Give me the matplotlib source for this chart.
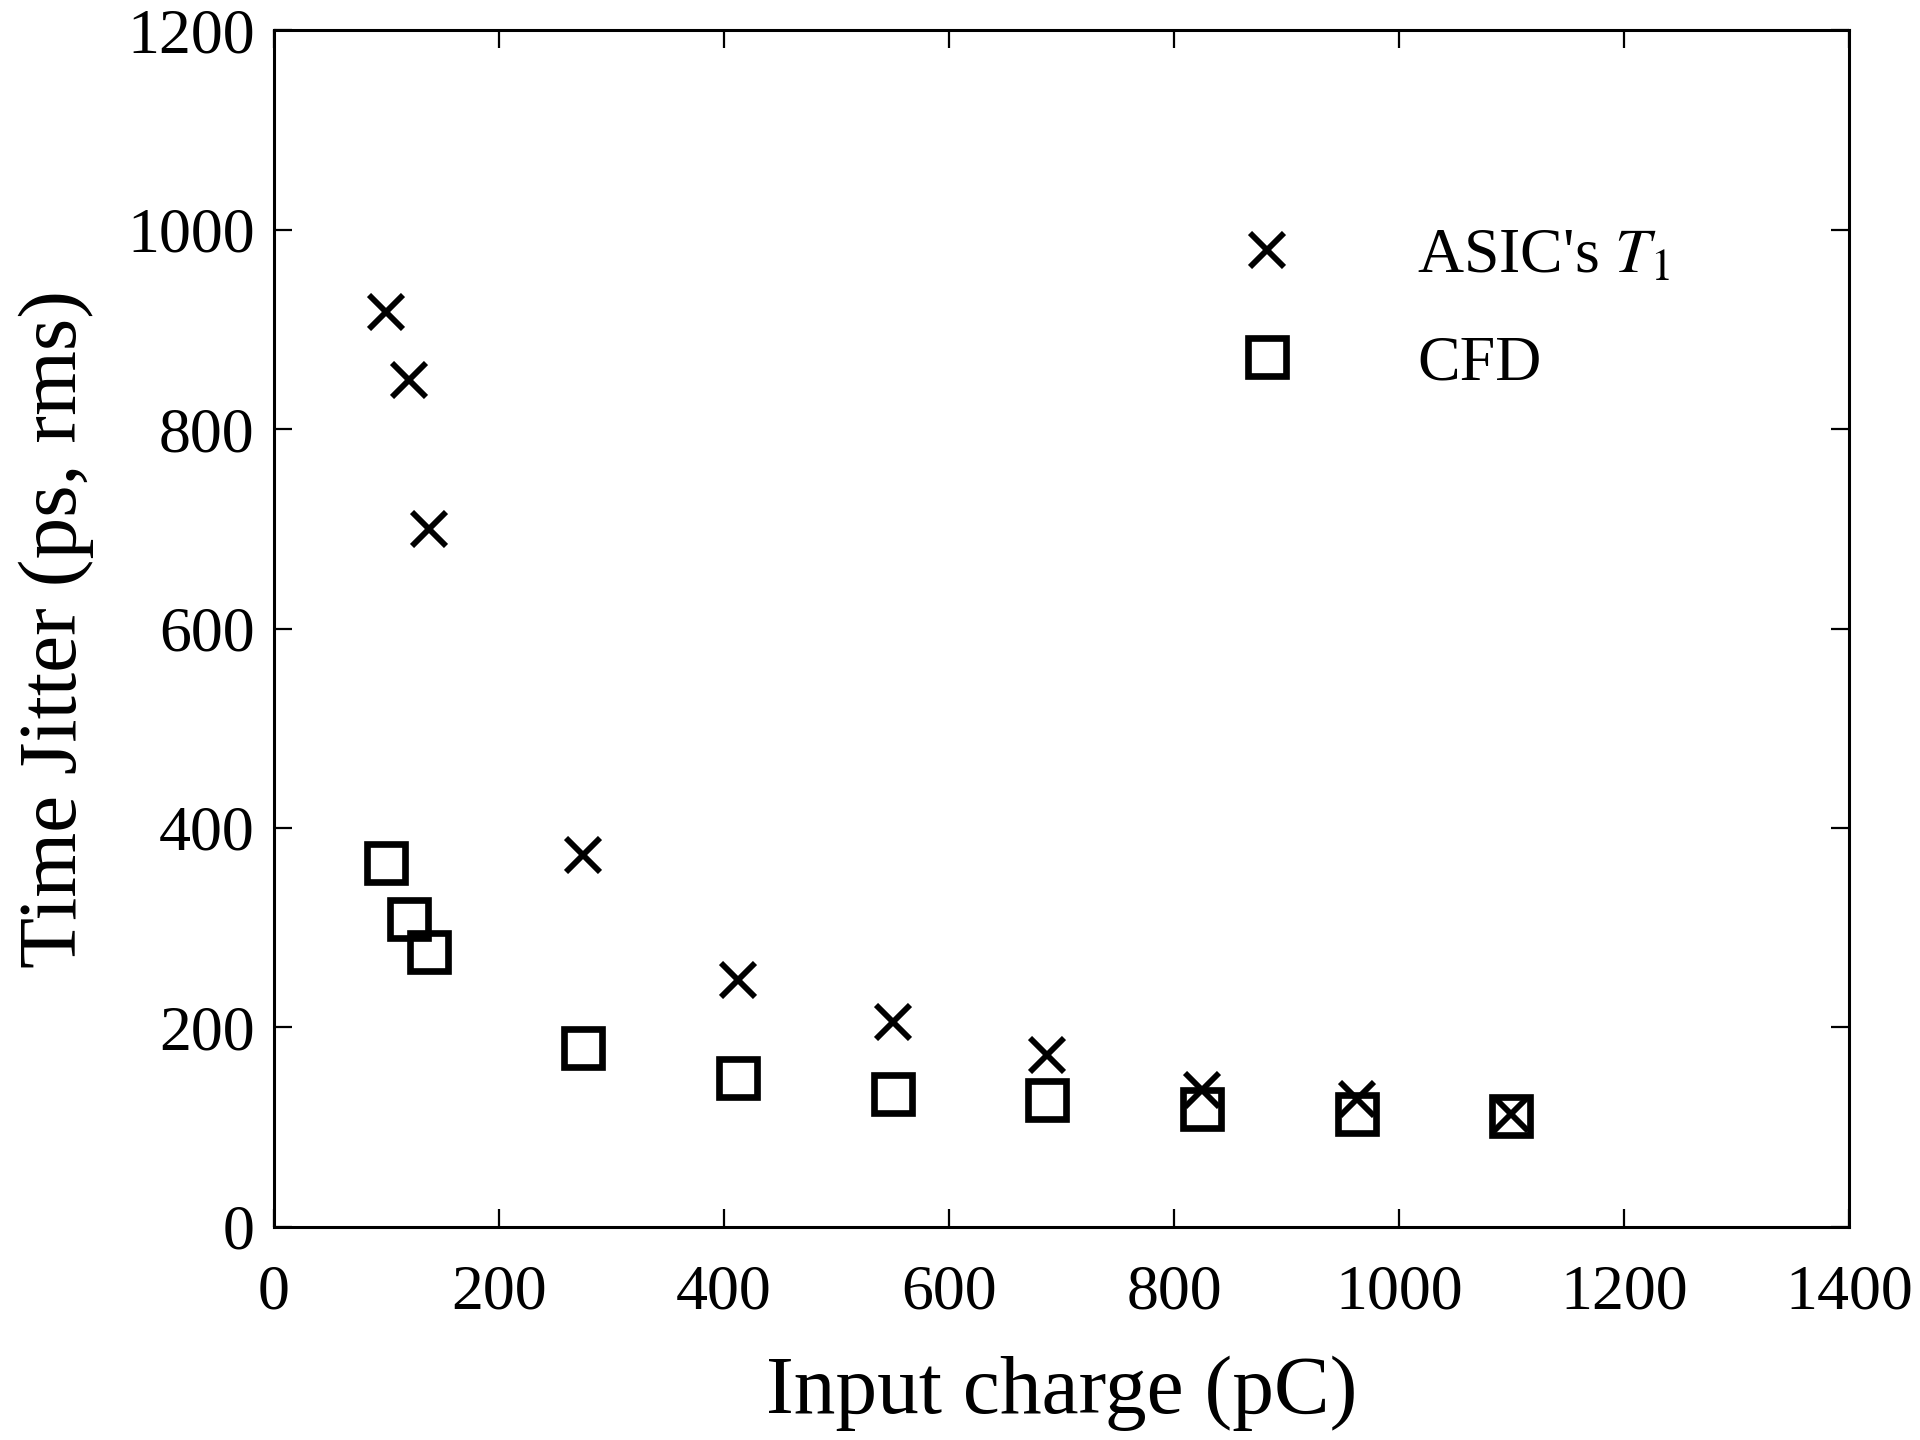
import numpy as np
import matplotlib
matplotlib.use("Agg")
import matplotlib.pyplot as plt

# ==== DATI ====
charge = [100, 120, 137.5, 275, 412.5, 550, 687.5, 825, 962.5, 1100]  # pC
jitter_asic = [917, 849, 700, 373, 248, 205, 172, 137, 128, 113]   # ps rms
jitter_cfd = [365, 309, 276, 179, 149, 133, 127, 118, 113, 111]    # ps rms

x_ticks = [0, 200, 400, 600, 800, 1000, 1200, 1400]
y_ticks = [0, 200, 400, 600, 800, 1000, 1200]

plt.rcParams['font.family'] = ['Liberation Serif', 'DejaVu Serif']
plt.rcParams['mathtext.fontset'] = 'stix'

fig = plt.figure(figsize=(19.2, 14.4), dpi=100)
ax = fig.add_axes([0.1427, 0.148, 0.963 - 0.1427, 0.979 - 0.148])

ax.plot(charge, jitter_asic, linestyle="none", marker="x", markersize=25,
        markeredgewidth=4.2, color="black", label=r"ASIC's $T_1$")
ax.plot(charge, jitter_cfd, linestyle="none", marker="s", markersize=27,
        markeredgewidth=4.8, markerfacecolor="none", markeredgecolor="black",
        label="CFD")

ax.set_xlim(0, 1400)
ax.set_ylim(0, 1200)
ax.set_xticks(x_ticks)
ax.set_yticks(y_ticks)
ax.tick_params(direction="in", length=13, width=1.6, labelsize=46,
               top=True, right=True)
ax.tick_params(axis="x", pad=27)
ax.tick_params(axis="y", pad=14)
for sp in ax.spines.values():
    sp.set_linewidth(2.2)

ax.set_xlabel("Input charge (pC)", fontsize=60, labelpad=24)
ax.set_ylabel("Time Jitter (ps, rms)", fontsize=60, labelpad=24)

# --- LEGENDA ---
ax.legend(loc="upper left", bbox_to_anchor=(0.59, 0.856), frameon=False,
          fontsize=46, handletextpad=1.75, labelspacing=0.75,
          borderaxespad=0, handlelength=1.2)

fig.savefig("out.png", dpi=100)
